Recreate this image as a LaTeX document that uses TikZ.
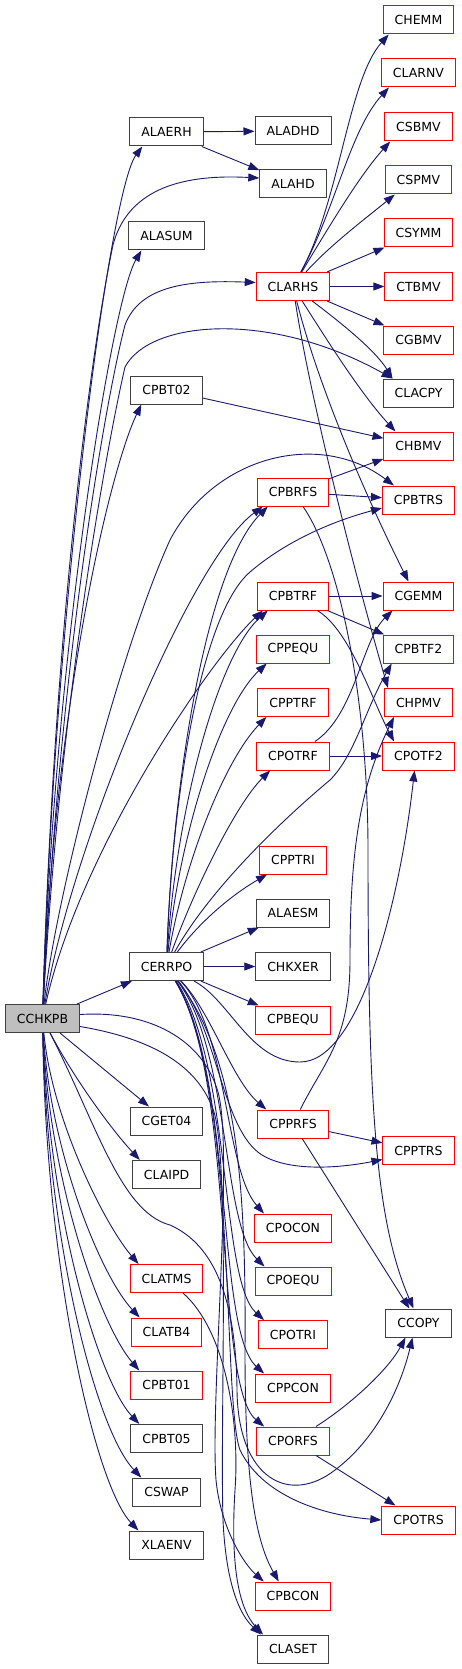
\documentclass[tikz,border=0pt]{standalone}
\usepackage{fontspec}
\setmainfont{DejaVu Sans}
\usetikzlibrary{arrows.meta}
\definecolor{edgec}{HTML}{191970}
\definecolor{bord}{HTML}{404040}
\definecolor{redb}{HTML}{FF0000}
\definecolor{hil}{HTML}{BFBFBF}
\begin{document}
\begin{tikzpicture}[x=1pt,y=-1pt,
  blkbox/.style={draw=bord, fill=white, line width=1pt, minimum height=28pt, inner xsep=11.5pt, inner ysep=0pt, font=\fontsize{12.5pt}{15pt}\selectfont},
  redbox/.style={blkbox, draw=redb},
  call/.style={draw=edgec, line width=0.9pt, -{Triangle[length=11pt,width=8pt]}}]
\fill[white] (0,0) rectangle (461,1669);
\useasboundingbox (0,0) rectangle (461,1669);
% right column
\node[redbox] (chemm)  at (418.5,20)     {CHEMM};
\node[redbox] (clarnv) at (418.5,73)     {CLARNV};
\node[redbox] (csbmv)  at (418.5,127)    {CSBMV};
\node[redbox] (cspmv)  at (418.5,180)    {CSPMV};
\node[redbox] (csymm)  at (418.5,233)    {CSYMM};
\node[redbox] (ctbmv)  at (418.5,286.5)  {CTBMV};
\node[redbox] (cgbmv)  at (418.5,340)    {CGBMV};
\node[blkbox] (clacpy) at (418.5,393)    {CLACPY};
\node[redbox] (chbmv)  at (418.5,446)    {CHBMV};
\node[redbox] (cpbtrs) at (418.5,500)    {CPBTRS};
\node[redbox] (cgemm)  at (418.5,596)    {CGEMM};
\node[redbox] (cpbtf2) at (418.5,649)    {CPBTF2};
\node[redbox] (chpmv)  at (418.5,702.5)  {CHPMV};
\node[redbox] (cpotf2) at (418.5,756)    {CPOTF2};
\node[redbox] (cpptrs) at (418.5,1150.5) {CPPTRS};
\node[blkbox] (ccopy)  at (418.5,1323)   {CCOPY};
\node[redbox] (cpotrs) at (418.5,1520)   {CPOTRS};
% middle column
\node[blkbox] (aladhd) at (293,131)    {ALADHD};
\node[blkbox] (alahd)  at (293,184)    {ALAHD};
\node[redbox] (clarhs) at (293,286.5)  {CLARHS};
\node[redbox] (cpbrfs) at (293,492)    {CPBRFS};
\node[redbox] (cpbtrf) at (293,596)    {CPBTRF};
\node[redbox] (cppequ) at (293,649)    {CPPEQU};
\node[redbox] (cpptrf) at (293,702.5)  {CPPTRF};
\node[redbox] (cpotrf) at (293,756)    {CPOTRF};
\node[redbox] (cpptri) at (293,860)    {CPPTRI};
\node[blkbox] (alaesm) at (293,913)    {ALAESM};
\node[blkbox] (chkxer) at (293,966.5)  {CHKXER};
\node[redbox] (cpbequ) at (293,1020)   {CPBEQU};
\node[redbox] (cpprfs) at (293,1124)   {CPPRFS};
\node[redbox] (cpocon) at (293,1228)   {CPOCON};
\node[redbox] (cpoequ) at (293,1281)   {CPOEQU};
\node[redbox] (cpotri) at (293,1334.5) {CPOTRI};
\node[redbox] (cppcon) at (293,1388)   {CPPCON};
\node[redbox] (cporfs) at (293,1441)   {CPORFS};
\node[redbox] (cpbcon) at (293,1596)   {CPBCON};
\node[blkbox] (claset) at (293,1649)   {CLASET};
% left column
\node[blkbox] (alaerh) at (166.5,132)    {ALAERH};
\node[blkbox] (alasum) at (166.5,236)    {ALASUM};
\node[blkbox] (cpbt02) at (166.5,390)    {CPBT02};
\node[blkbox] (cerrpo) at (166.5,966.5)  {CERRPO};
\node[blkbox] (cget04) at (166.5,1121)   {CGET04};
\node[blkbox] (claipd) at (166.5,1174.5) {CLAIPD};
\node[redbox] (clatms) at (166.5,1278.5) {CLATMS};
\node[redbox] (clatb4) at (166.5,1332)   {CLATB4};
\node[redbox] (cpbt01) at (166.5,1385)   {CPBT01};
\node[blkbox] (cpbt05) at (166.5,1438.5) {CPBT05};
\node[blkbox] (cswap)  at (166.5,1492)   {CSWAP};
\node[blkbox] (xlaenv) at (166.5,1545)   {XLAENV};
\node[blkbox, fill=hil] (cchkpb) at (42.5,1018.5) {CCHKPB};

% CCHKPB upward
\draw[call] (cchkpb) .. controls (55,600) and (110,190) .. ([xshift=13pt]alaerh.south west);
\draw[call] (cchkpb) .. controls (55,600) and (95,330) .. (113,245) .. controls (130,180) and (200,175) .. ([yshift=6pt]alahd.west);
\draw[call] (cchkpb) .. controls (55,650) and (112,300) .. ([xshift=13pt]alasum.south west);
\draw[call] (cchkpb) .. controls (60,650) and (108,390) .. (125,325) .. controls (140,285) and (190,280) .. ([yshift=4pt]clarhs.west);
\draw[call] (cchkpb) .. controls (60,700) and (108,440) .. (125,367) .. controls (150,320) and (270,310) .. ([xshift=10pt]clacpy.north west);
\draw[call] (cchkpb) .. controls (55,700) and (110,470) .. ([xshift=11pt]cpbt02.south west);
\draw[call] (cchkpb) .. controls (55,900) and (120,650) .. (170,540) .. controls (215,455) and (320,430) .. ([xshift=12pt]cpbtrs.north west);
\draw[call] (cchkpb) .. controls (70,850) and (190,560) .. ([xshift=6pt]cpbrfs.south west);
\draw[call] (cchkpb) .. controls (80,850) and (210,660) .. ([xshift=6pt]cpbtrf.south west);
% CCHKPB right and down
\draw[call] (cchkpb) -- (cerrpo);
\draw[call] (cchkpb) -- (cget04);
\draw[call] (cchkpb) .. controls (75,1080) and (112,1130) .. ([xshift=8pt]claipd.north west);
\draw[call] (cchkpb) .. controls (52,1120) and (105,1225) .. ([xshift=9pt]clatms.north west);
\draw[call] (cchkpb) .. controls (50,1150) and (100,1275) .. ([xshift=9pt]clatb4.north west);
\draw[call] (cchkpb) .. controls (49,1180) and (100,1325) .. ([xshift=9pt]cpbt01.north west);
\draw[call] (cchkpb) .. controls (48,1210) and (98,1380) .. ([xshift=9pt]cpbt05.north west);
\draw[call] (cchkpb) .. controls (47,1240) and (96,1430) .. ([xshift=9pt]cswap.north west);
\draw[call] (cchkpb) .. controls (46,1270) and (95,1485) .. ([xshift=9pt]xlaenv.north west);
\draw[call] (cchkpb) .. controls (95,1120) and (120,1212) .. (170,1225) .. controls (215,1245) and (236,1300) .. (237,1390) .. controls (238,1480) and (290,1505) .. (335,1470) .. controls (375,1440) and (400,1390) .. ([xshift=-6pt]ccopy.south);
\draw[call] ([yshift=4pt]cchkpb.east) .. controls (150,1010) and (203,1040) .. (218,1092) .. controls (234,1150) and (210,1400) .. (216,1480) .. controls (221,1530) and (245,1565) .. ([xshift=9pt]cpbcon.north west);
\draw[call] ([yshift=-8pt]cchkpb.east) .. controls (160,1040) and (200,1070) .. (214,1112) .. controls (230,1165) and (220,1420) .. (223,1520) .. controls (226,1585) and (240,1615) .. ([xshift=4pt]claset.north west);
\draw[call] (clatms) .. controls (225,1330) and (240,1420) .. (235,1490) .. controls (230,1570) and (240,1610) .. ([xshift=6pt]claset.north west);

% CERRPO
\draw[call] (cerrpo) -- (alaesm);
\draw[call] (cerrpo) -- (chkxer);
\draw[call] (cerrpo) -- (cpbequ);
\draw[call] (cerrpo) .. controls (205,915) and (240,890) .. ([xshift=8pt]cpptri.south west);
\draw[call] (cerrpo) .. controls (192,895) and (235,805) .. ([xshift=14pt]cpotrf.south west);
\draw[call] (cerrpo) .. controls (185,860) and (225,760) .. ([xshift=9pt]cpptrf.south west);
\draw[call] (cerrpo) .. controls (180,830) and (222,705) .. ([xshift=11pt]cppequ.south west);
\draw[call] (cerrpo) .. controls (176,810) and (218,655) .. ([xshift=11pt]cpbtrf.south west);
\draw[call] (cerrpo) .. controls (172,790) and (205,570) .. ([xshift=11pt]cpbrfs.south west);
\draw[call] (cerrpo) .. controls (172,800) and (200,615) .. (250,572) .. controls (285,542) and (330,522) .. ([yshift=-8pt]cpbtrs.west);
\draw[call] (cerrpo) .. controls (215,880) and (300,805) .. (330,780) .. controls (355,755) and (365,710) .. ([xshift=9pt]cpbtf2.south west);
\draw[call] (cerrpo) .. controls (230,1000) and (250,1062) .. (300,1062) .. controls (360,1062) and (400,900) .. ([xshift=-4pt]cpotf2.south);
\draw[call] (cerrpo) .. controls (210,1010) and (232,1080) .. ([xshift=9pt]cpprfs.north west);
\draw[call] (cerrpo) .. controls (218,1030) and (222,1130) .. (262,1155) .. controls (290,1172) and (340,1168) .. ([yshift=-9pt]cpptrs.west);
\draw[call] (cerrpo) .. controls (228,1030) and (225,1170) .. ([xshift=10pt]cpocon.north west);
\draw[call] (cerrpo) .. controls (230,1050) and (222,1225) .. ([xshift=10pt]cpoequ.north west);
\draw[call] (cerrpo) .. controls (232,1065) and (220,1280) .. ([xshift=6pt]cpotri.north west);
\draw[call] (cerrpo) .. controls (234,1075) and (216,1330) .. ([xshift=9pt]cppcon.north west);
\draw[call] (cerrpo) .. controls (236,1080) and (214,1385) .. ([xshift=8pt]cporfs.north west);
\draw[call] (cerrpo) .. controls (238,1085) and (222,1400) .. (240,1450) .. controls (262,1495) and (320,1515) .. (cpotrs.west);
\draw[call] (cerrpo) .. controls (240,1060) and (246,1200) .. (245,1350) .. controls (245,1480) and (255,1540) .. ([xshift=24pt]cpbcon.north west);

% ALAERH
\draw[call] (alaerh) -- (aladhd);
\draw[call] (alaerh) -- (alahd);

% CLARHS
\draw[call] (clarhs) .. controls (340,200) and (348,80) .. ([xshift=6pt]chemm.south west);
\draw[call] (clarhs) .. controls (335,210) and (350,130) .. ([xshift=8pt]clarnv.south west);
\draw[call] (clarhs) .. controls (330,225) and (360,175) .. ([xshift=6pt]csbmv.south west);
\draw[call] (clarhs) .. controls (330,245) and (370,215) .. ([xshift=10pt]cspmv.south west);
\draw[call] (clarhs) -- (csymm);
\draw[call] (clarhs) -- (ctbmv);
\draw[call] (clarhs) -- (cgbmv);
\draw[call] (clarhs) .. controls (340,322) and (375,350) .. ([xshift=10pt]clacpy.north west);
\draw[call] (clarhs) .. controls (330,345) and (362,395) .. ([xshift=12pt]chbmv.north west);
\draw[call] (clarhs) .. controls (318,385) and (365,495) .. ([xshift=-10pt]cgemm.north);
\draw[call] (clarhs) .. controls (312,410) and (362,600) .. ([xshift=4pt]chpmv.north west);

% others
\draw[call] (cpbt02) -- (chbmv);
\draw[call] (cpbrfs) -- (chbmv);
\draw[call] (cpbrfs) -- (cpbtrs);
\draw[call] (cpbrfs) .. controls (340,560) and (368,700) .. (368,850) .. controls (368,1100) and (375,1220) .. ([xshift=-5pt]ccopy.north);
\draw[call] (cpbtrf) -- (cgemm);
\draw[call] (cpbtrf) -- (cpbtf2);
\draw[call] (cpbtrf) .. controls (350,630) and (372,700) .. ([xshift=12pt]cpotf2.north west);
\draw[call] (cpotrf) -- (cpotf2);
\draw[call] (cpotrf) .. controls (355,715) and (362,640) .. ([xshift=10pt]cgemm.south west);
\draw[call] (cpprfs) .. controls (325,1060) and (350,1040) .. (350,960) .. controls (350,860) and (358,790) .. ([xshift=10pt]chpmv.south west);
\draw[call] (cpprfs) -- (cpptrs);
\draw[call] (cpprfs) -- (ccopy);
\draw[call] (cporfs) .. controls (350,1405) and (388,1370) .. ([xshift=-13pt]ccopy.south);
\draw[call] (cporfs) -- (cpotrs);
\end{tikzpicture}
\end{document}
